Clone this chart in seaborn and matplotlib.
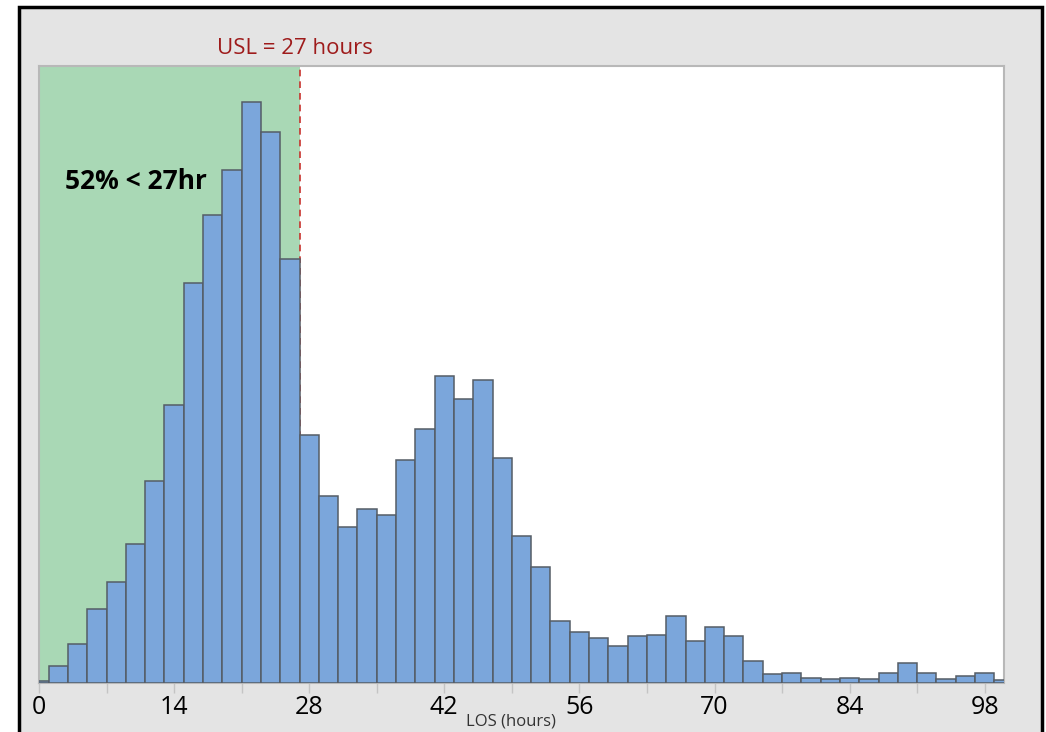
import pandas as pd
import matplotlib
matplotlib.use("Agg")
import matplotlib.pyplot as plt
from matplotlib.patches import Rectangle
import seaborn as sns

# LOS histogram, bins of 2 hours centred on even hours
bin_centers = list(range(0, 102, 2))
frequency = [2, 17, 39, 74, 101, 139, 202, 278, 400, 468, 513, 581, 551, 424,
             248, 187, 156, 174, 168, 223, 254, 307, 284, 303, 225, 147, 116,
             62, 51, 45, 37, 47, 48, 67, 42, 56, 47, 22, 9, 10, 5, 4, 5, 4,
             10, 20, 10, 4, 7, 10, 3]
tick_values = [0, 14, 28, 42, 56, 70, 84, 98]
usl = 27
usl_label = "USL = 27 hours"
share_label = "52% < 27hr"

df = pd.DataFrame({"los": bin_centers, "freq": frequency})

sns.set_style("white")
plt.rcParams["font.family"] = ["Open Sans", "DejaVu Sans"]

fig = plt.figure(figsize=(10.46, 7.32), dpi=100)
fig.patch.set_facecolor("white")
fig.patches.append(Rectangle((19 / 1046, -0.02), (1042 - 19) / 1046, 1 - 7 / 732 + 0.02,
                             transform=fig.transFigure, facecolor="#e4e4e4",
                             edgecolor="black", linewidth=2.5, zorder=-10))

ax = fig.add_axes([39 / 1046, 1 - 683 / 732, (1004 - 39) / 1046, (683 - 66) / 732])
ax.set_facecolor("white")

sns.histplot(data=df, x="los", weights="freq", binwidth=2, binrange=(-1, 101), ax=ax,
             color="#7ba6db", edgecolor="#555d66", linewidth=1.1, alpha=1, zorder=3)

ax.axvspan(0, usl, color="#a9d8b5", zorder=0, linewidth=0)
ax.axvline(usl, color="#c8322d", linestyle=(0, (4, 3)), linewidth=1.2, zorder=1)

ax.set_xlim(0, 100)
ax.set_ylim(0, 617)
ax.set_yticks([])
ax.set_xticks(tick_values)
ax.set_xticks([7, 21, 35, 49, 63, 77, 91], minor=True)
ax.tick_params(axis="x", which="both", direction="out", length=7, width=1,
               color="#c4c4c4", bottom=True, labelsize=18, pad=2, labelcolor="black")
ax.set_xlabel("")
ax.set_ylabel("")
for s in ax.spines.values():
    s.set_color("#b8b8b8")
    s.set_linewidth(1.5)

fig.text(295 / 1046, 1 - 48 / 732, usl_label, color="#9e1b1b", fontsize=16,
         ha="center", va="center")
ax.text(0.027, 0.812, share_label, transform=ax.transAxes,
        fontsize=19, fontweight="bold", ha="left", va="center", color="black", zorder=5)
fig.text(511 / 1046, 1 - 721 / 732, "LOS (hours)", color="#333333", fontsize=12,
         ha="center", va="center")

fig.savefig("out.png", dpi=100)
